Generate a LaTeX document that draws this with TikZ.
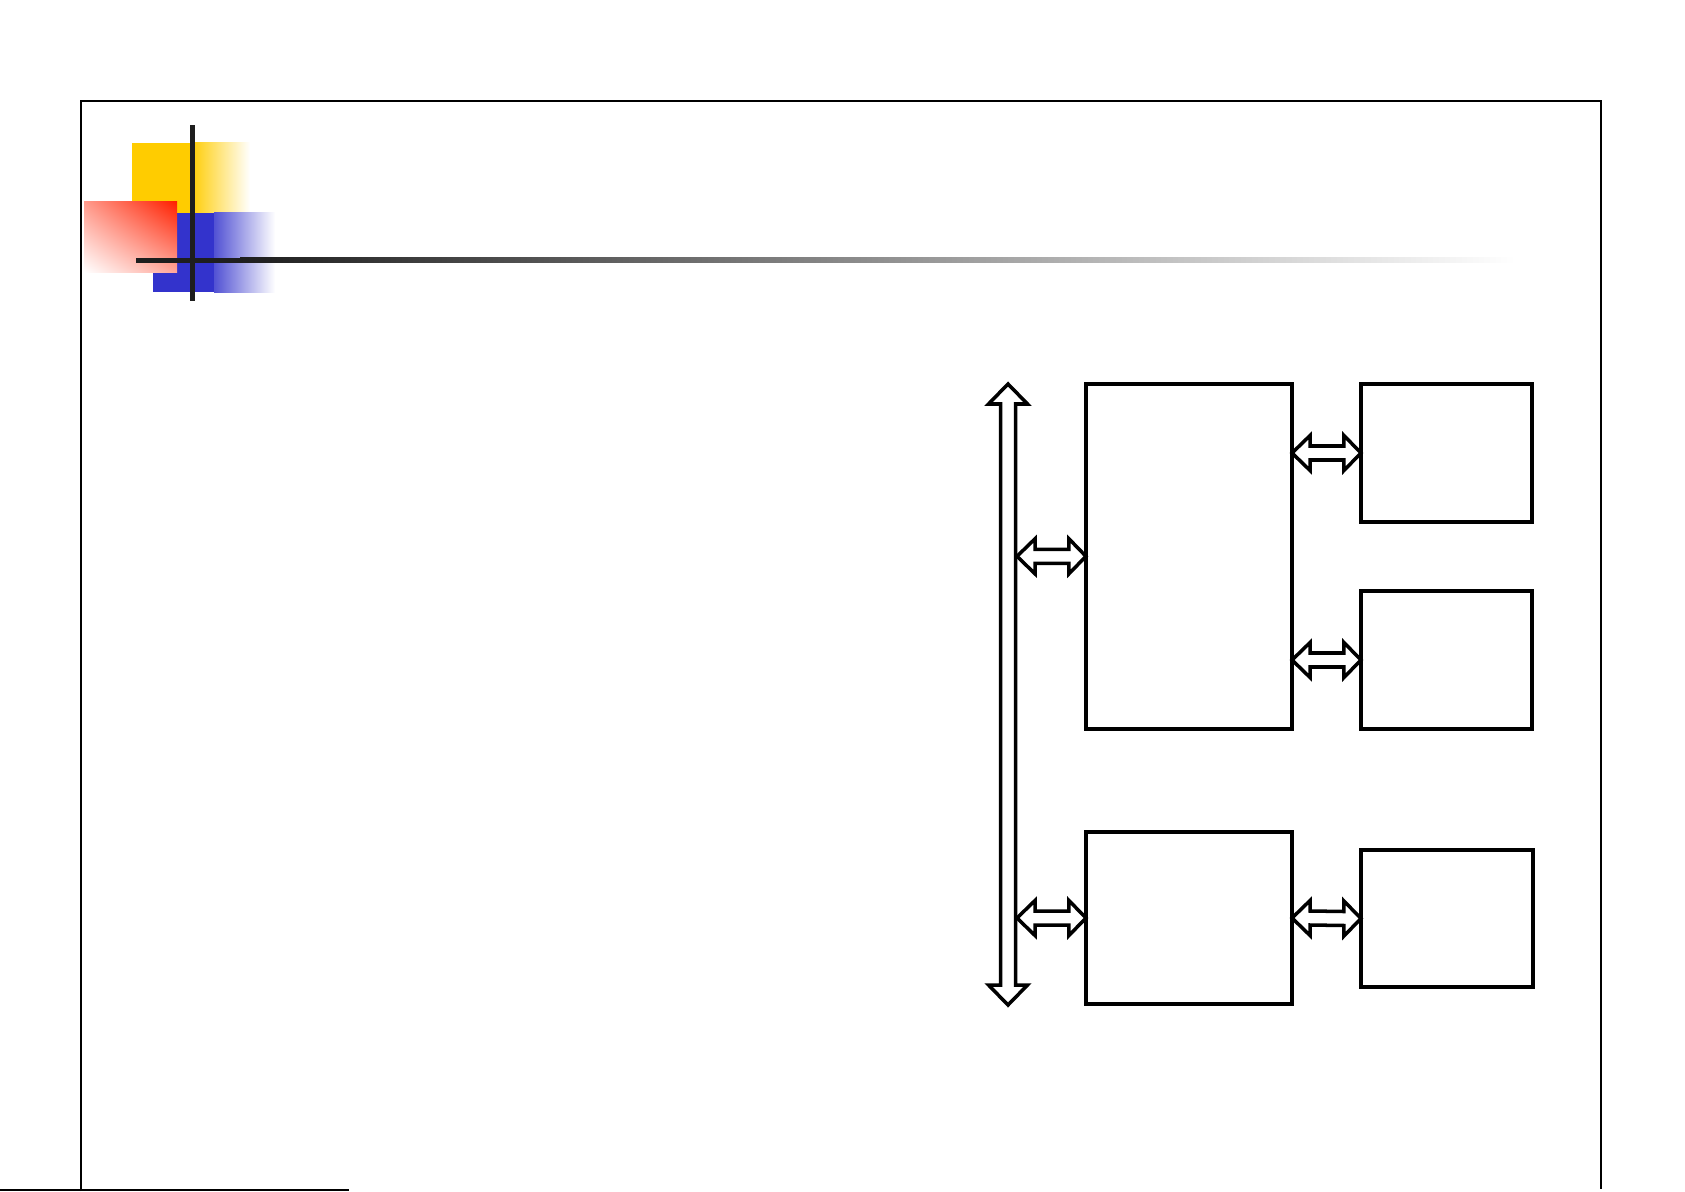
\documentclass[tikz,border=0pt]{standalone}
\usetikzlibrary{calc,shadings}
\definecolor{dyellow}{HTML}{FFCC00}
\definecolor{dblue}{HTML}{3333CC}
\definecolor{dred}{HTML}{FF2000}
\definecolor{dline}{HTML}{1E1E1E}
\tikzset{
  box/.style={draw, line width=1.05pt, fill=white, inner sep=0pt, outer sep=0pt},
  blockarr/.style={draw, line width=1pt, fill=white, line join=miter},
  frameline/.style={line width=0.75pt}
}
\newcommand{\hdarrow}[2]{%
  \draw[blockarr] (#1) -- ($(#1)+(18,-17.5)$) -- ($(#1)+(18,-7)$) -- ($(#2)+(-17,-7)$)
   -- ($(#2)+(-17,-17.5)$) -- (#2) -- ($(#2)+(-17,17.5)$) -- ($(#2)+(-17,7)$)
   -- ($(#1)+(18,7)$) -- ($(#1)+(18,17.5)$) -- cycle;}
\begin{document}
\begin{tikzpicture}[x=0.01cm,y=-0.01cm]
\useasboundingbox (0,0) rectangle (1685,1191);
% decoration
\fill[dyellow] (132,143) rectangle (190,213);
\shade[left color=dyellow, right color=white] (190,143) rectangle (250,213);
\fill[dblue] (153,213) rectangle (214,292);
\shade[left color=dblue!85!white, right color=white] (214,213) rectangle (275,292);
\shade[upper right=dred, upper left=dred!45!white, lower right=dred!40!white, lower left=white] (84,202) rectangle (177,272);
\fill[dline] (136,257.5) rectangle (240,262.5);
\shade[left color=dline, right color=white] (240,257.5) rectangle (1515,262.5);
\fill[dline] (189.5,125) rectangle (194.5,301);
% frame
\draw[frameline] (81,1191) -- (81,101) -- (1601,101) -- (1601,1189);
\draw[frameline] (0,1190) -- (349,1190);
% boxes
\node[box, minimum width=2.06cm, minimum height=3.446cm] (b1) at (1189,556.3) {};
\node[box, minimum width=1.71cm, minimum height=1.38cm] (b2) at (1446.5,453) {};
\node[box, minimum width=1.71cm, minimum height=1.38cm] (b3) at (1446.5,660) {};
\node[box, minimum width=2.06cm, minimum height=1.72cm] (b4) at (1189,918) {};
\node[box, minimum width=1.72cm, minimum height=1.37cm] (b5) at (1447,918.5) {};
% bus
\coordinate (busT) at (1008,384);
\coordinate (busB) at (1008,1005);
\coordinate (busR) at (1017,700);
\draw[blockarr] (busT) -- ($(busT)+(19.5,20)$) -- ($(busT)+(7.5,20)$) -- ($(busB)+(7.5,-20)$)
  -- ($(busB)+(19.5,-20)$) -- (busB) -- ($(busB)+(-19.5,-20)$) -- ($(busB)+(-7.5,-20)$)
  -- ($(busT)+(-7.5,20)$) -- ($(busT)+(-19.5,20)$) -- cycle;
% connectors
\coordinate (a1) at (busR |- b1.west);
\coordinate (a4) at (busR |- b4.west);
\hdarrow{a1}{b1.west}
\hdarrow{a4}{b4.west}
\hdarrow{b1.east |- b2.west}{b2.west}
\hdarrow{b1.east |- b3.west}{b3.west}
\hdarrow{b4.east}{b5.west}
\end{tikzpicture}
\end{document}
